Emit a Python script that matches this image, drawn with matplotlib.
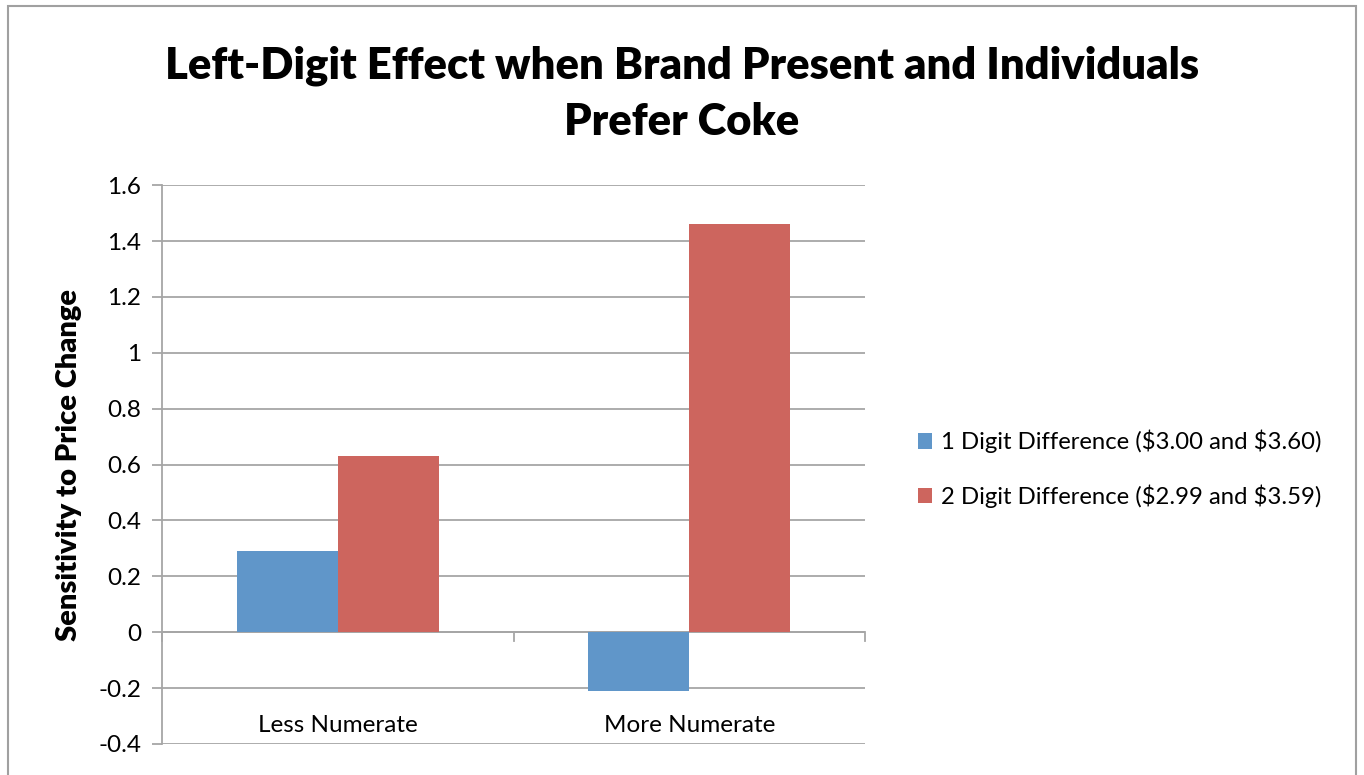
import matplotlib.pyplot as plt
from matplotlib.patches import Rectangle
import numpy as np

plt.rcParams['font.family'] = ['Lato', 'DejaVu Sans']

categories = ['Less Numerate', 'More Numerate']
series_names = [r'1 Digit Difference (\$3.00 and \$3.60)',
                r'2 Digit Difference (\$2.99 and \$3.59)']
one_digit = [0.29, -0.21]
two_digit = [0.63, 1.46]
colors = ['#6096c9', '#cd655e']
grid_color = '#a6a6a6'

fig = plt.figure(figsize=(13.64, 7.75), dpi=100)
ax = fig.add_axes([0.1188, 0.04, 0.5154, 0.721])

x = np.arange(len(categories))
w = 0.2875
ax.bar(x - w / 2, one_digit, w, color=colors[0], label=series_names[0], zorder=3)
ax.bar(x + w / 2, two_digit, w, color=colors[1], label=series_names[1], zorder=3)

ax.set_xlim(-0.5, 1.5)
ax.set_ylim(-0.4, 1.6)
yt = np.arange(-0.4, 1.61, 0.2)
ax.set_yticks(yt)
ax.set_yticklabels(['%g' % round(v, 1) for v in yt], fontsize=17.5)
ax.yaxis.grid(True, color=grid_color, linewidth=1.3, zorder=0)
ax.tick_params(axis='y', length=7, width=1.3, color=grid_color, pad=8)

for s in ['top', 'right', 'bottom']:
    ax.spines[s].set_visible(False)
ax.spines['left'].set_color(grid_color)
ax.spines['left'].set_linewidth(1.3)

# category axis at zero with tick marks between categories
ax.axhline(0, color=grid_color, linewidth=1.3, zorder=2)
ax.set_xticks([])
for b in [-0.5, 0.5, 1.5]:
    ax.plot([b, b], [0, -0.03], color=grid_color, linewidth=1.3, clip_on=False, zorder=2)
for xi, c in zip(x, categories):
    ax.text(xi, -0.335, c, ha='center', va='center', fontsize=17.5)

ax.set_ylabel('Sensitivity to Price Change', fontsize=21, fontweight='heavy', labelpad=12)

fig.text(0.5, 0.879, 'Left-Digit Effect when Brand Present and Individuals\nPrefer Coke',
         ha='center', va='center', fontsize=31.3, fontweight='heavy', linespacing=1.5)

leg = fig.legend(loc='center left', bbox_to_anchor=(0.657, 0.395), frameon=False,
                 fontsize=17.2, handlelength=0.62, handleheight=0.62, handletextpad=0.35,
                 labelspacing=1.3)

# outer chart border
fig.patches.append(Rectangle((8 / 1364, -0.01), 1348 / 1364, 1 - 6 / 775 + 0.01,
                             transform=fig.transFigure, fill=False,
                             edgecolor='#a0a0a0', linewidth=1.5))

fig.savefig('out.png', dpi=100)
